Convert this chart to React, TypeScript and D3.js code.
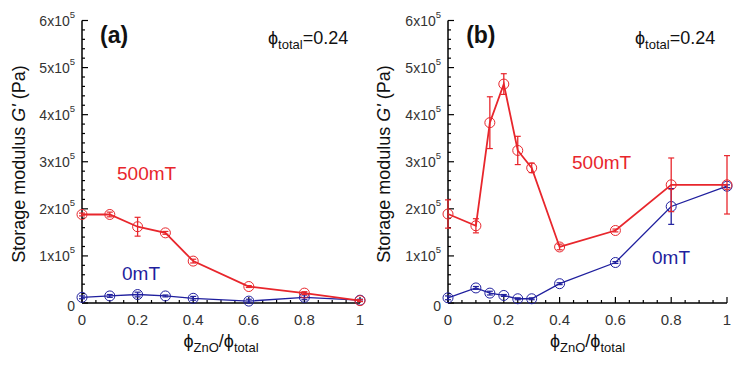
import React from "react";
import * as d3 from "d3";

const xTicks = [0, 0.2, 0.4, 0.6, 0.8, 1];
const xTickLabels = ["0", "0.2", "0.4", "0.6", "0.8", "1"];
const yTicks = [0, 1, 2, 3, 4, 5, 6];
const yTickLabels = ["0", "1x10", "2x10", "3x10", "4x10", "5x10", "6x10"];

// panel (a)
const xA = [0, 0.1, 0.2, 0.3, 0.4, 0.6, 0.8, 1.0];
const redA = [1.88, 1.88, 1.62, 1.49, 0.89, 0.35, 0.21, 0.05];
const redAErr = [0.03, 0.05, 0.2, 0.03, 0.04, 0.02, 0.03, 0.02];
const blueA = [0.12, 0.15, 0.18, 0.15, 0.1, 0.04, 0.12, 0.06];
const blueAErr = [0.03, 0.03, 0.05, 0.02, 0.04, 0.04, 0.05, 0.02];

// panel (b)
const xB = [0, 0.1, 0.15, 0.2, 0.25, 0.3, 0.4, 0.6, 0.8, 1.0];
const redB = [1.89, 1.64, 3.83, 4.65, 3.24, 2.87, 1.19, 1.54, 2.51, 2.51];
const redBErr = [0.3, 0.15, 0.55, 0.22, 0.3, 0.1, 0.06, 0.03, 0.57, 0.62];
const blueB = [0.11, 0.32, 0.21, 0.16, 0.09, 0.09, 0.41, 0.86, 2.05, 2.48];
const blueBErr = [0.04, 0.03, 0.04, 0.02, 0.02, 0.02, 0.02, 0.02, 0.38, 0.03];

const RED = "#e8262c";
const BLUE = "#1f1f9e";
const FONT = "Liberation Sans, Arial, sans-serif";

type PanelProps = {
  x0: number;
  x1: number;
  label: string;
  xs: number[];
  red: number[];
  redErr: number[];
  blue: number[];
  blueErr: number[];
  redLabel: [number, number];
  blueLabel: [number, number];
  phiX: number;
  titleX: number;
};

function Series({ xs, ys, errs, color, sx, sy, width }: any) {
  const line = d3
    .line<number>()
    .x((_, i) => sx(xs[i]))
    .y((d) => sy(d));
  return (
    <g>
      <path d={line(ys) || ""} fill="none" stroke={color} strokeWidth={width} />
      {ys.map((y: number, i: number) => {
        const cx = sx(xs[i]);
        const top = sy(y + errs[i]);
        const bot = sy(y - errs[i]);
        return (
          <g key={i}>
            <line x1={cx} x2={cx} y1={top} y2={bot} stroke={color} strokeWidth={1.3} />
            <line x1={cx - 3} x2={cx + 3} y1={top} y2={top} stroke={color} strokeWidth={1.2} />
            <line x1={cx - 3} x2={cx + 3} y1={bot} y2={bot} stroke={color} strokeWidth={1.2} />
            <circle cx={cx} cy={sy(y)} r={5} fill="none" stroke={color} strokeWidth={1} />
          </g>
        );
      })}
    </g>
  );
}

function Panel(p: PanelProps) {
  const sx = d3.scaleLinear().domain([0, 1]).range([p.x0, p.x1]);
  const sy = d3.scaleLinear().domain([0, 6]).range([303, 20.5]);
  const minorX = d3.range(0, 1.0001, 0.05);
  const minorY = d3.range(0, 6.0001, 0.2);
  return (
    <g fontFamily={FONT}>
      {/* axes */}
      <line x1={p.x0} x2={p.x0} y1={sy(6)} y2={sy(0)} stroke="#000" strokeWidth={1.5} />
      <line x1={p.x0} x2={p.x1} y1={sy(0)} y2={sy(0)} stroke="#000" strokeWidth={1.5} />
      {minorX.map((v, i) => {
        const major = Math.abs(v * 5 - Math.round(v * 5)) < 1e-6;
        return (
          <line key={"mx" + i} x1={sx(v)} x2={sx(v)} y1={sy(0)} y2={sy(0) - (major ? 6 : 3)} stroke="#000" strokeWidth={1.2} />
        );
      })}
      {minorY.map((v, i) => {
        const major = Math.abs(v - Math.round(v)) < 1e-6;
        return (
          <line key={"my" + i} x1={p.x0} x2={p.x0 + (major ? 6 : 3)} y1={sy(v)} y2={sy(v)} stroke="#000" strokeWidth={1.2} />
        );
      })}
      {xTicks.map((v, i) => (
        <text key={"xt" + i} x={sx(v)} y={325} fontSize={15} textAnchor="middle" fill="#333">
          {xTickLabels[i]}
        </text>
      ))}
      {yTicks.map((v, i) =>
        v === 0 ? (
          <text key={"yt" + i} x={p.x0 - 7} y={sy(v) + 8} fontSize={14} textAnchor="end" fill="#333">
            0
          </text>
        ) : (
          <text key={"yt" + i} x={p.x0 - 7} y={sy(v) + 5} fontSize={14} textAnchor="end" fill="#333">
            {yTickLabels[i]}
            <tspan fontSize={9.5} dy={-8}>5</tspan>
          </text>
        )
      )}
      {/* y title */}
      <text
        transform={`translate(${p.titleX},164) rotate(-90)`}
        fontSize={18}
        textAnchor="middle"
        fill="#111"
      >
        Storage modulus <tspan fontStyle="italic">G'</tspan> (Pa)
      </text>
      {/* x title */}
      <text x={sx(0.5)} y={347} fontSize={18} textAnchor="middle" fill="#111">
        ϕ<tspan fontSize={13} dy={5}>ZnO</tspan>
        <tspan dy={-5}>/ϕ</tspan>
        <tspan fontSize={13} dy={5}>total</tspan>
      </text>
      {/* panel label */}
      <text x={sx(0.065)} y={43} fontSize={23} fontWeight="bold" fill="#111">
        {p.label}
      </text>
      <text x={p.phiX} y={44} fontSize={18} fill="#111">
        ϕ<tspan fontSize={13} dy={5}>total</tspan>
        <tspan dy={-5}>=0.24</tspan>
      </text>
      <Series xs={p.xs} ys={p.blue} errs={p.blueErr} color={BLUE} sx={sx} sy={sy} width={1.3} />
      <Series xs={p.xs} ys={p.red} errs={p.redErr} color={RED} sx={sx} sy={sy} width={1.8} />
      <text x={p.redLabel[0]} y={p.redLabel[1]} fontSize={19} fill={RED}>
        500mT
      </text>
      <text x={p.blueLabel[0]} y={p.blueLabel[1]} fontSize={19} fill={BLUE}>
        0mT
      </text>
    </g>
  );
}

export default function App() {
  return (
    <svg width={739} height={367} style={{ position: "absolute", left: 0, top: 0, background: "#fff" }}>
      <rect width={739} height={367} fill="#fff" />
      <Panel
        x0={82}
        x1={360}
        label="(a)"
        xs={xA}
        red={redA}
        redErr={redAErr}
        blue={blueA}
        blueErr={blueAErr}
        redLabel={[117, 180]}
        blueLabel={[122, 280]}
        phiX={268}
        titleX={25}
      />
      <Panel
        x0={448}
        x1={727}
        label="(b)"
        xs={xB}
        red={redB}
        redErr={redBErr}
        blue={blueB}
        blueErr={blueBErr}
        redLabel={[572, 169]}
        blueLabel={[652, 264]}
        phiX={635}
        titleX={390}
      />
    </svg>
  );
}
